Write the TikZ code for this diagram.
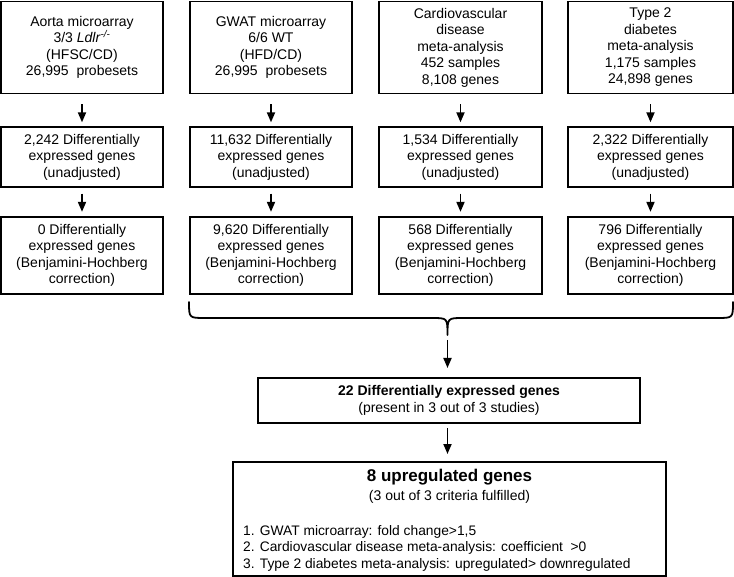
\documentclass[tikz,border=0pt]{standalone}
\usepackage{fontspec}
\setmainfont{Liberation Sans}
\usetikzlibrary{arrows.meta}
\begin{document}
\begin{tikzpicture}[x=1pt,y=-1pt,
  box/.style={draw, line width=1.3pt, align=center, inner sep=0pt,
    font=\fontsize{14}{16.5}\selectfont},
  topbox/.style={box, minimum height=92pt},
  midbox/.style={box, minimum height=60pt},
  botbox/.style={box, minimum height=77pt},
  bigbox/.style={draw, line width=2pt, inner sep=0pt, align=center,
    font=\fontsize{14}{16.5}\selectfont},
  txt/.style={inner sep=0pt, font=\fontsize{14}{16.5}\selectfont},
  arr/.style={line width=1.8pt, -{Triangle[length=10pt,width=8pt]}},
  bracestyle/.style={line width=1.8pt, line cap=round, line join=round}]
\useasboundingbox (0,0) rectangle (734,577);

% top row
\node[topbox, minimum width=162pt] (t1) at (82,47.5)
  {Aorta microarray\\3/3 \textit{Ldlr}\textsuperscript{\textit{-/-}}\\(HFSC/CD)\\26,995\ \ probesets};
\node[topbox, minimum width=162pt] (t2) at (271,47.5)
  {GWAT microarray\\6/6 WT\\(HFD/CD)\\26,995\ \ probesets};
\node[topbox, minimum width=163pt] (t3) at (460.5,47.5)
  {Cardiovascular\\disease\\meta-analysis\\452 samples\\8,108 genes};
\node[topbox, minimum width=165pt] (t4) at (650.5,47.5)
  {Type 2\\diabetes\\meta-analysis\\1,175 samples\\24,898 genes};

% middle row
\node[midbox, minimum width=162pt] (m1) at (82,157)
  {2,242 Differentially\\expressed genes\\(unadjusted)};
\node[midbox, minimum width=162pt] (m2) at (271,157)
  {11,632 Differentially\\expressed genes\\(unadjusted)};
\node[midbox, minimum width=163pt] (m3) at (460.5,157)
  {1,534 Differentially\\expressed genes\\(unadjusted)};
\node[midbox, minimum width=165pt] (m4) at (650.5,157)
  {2,322 Differentially\\expressed genes\\(unadjusted)};

% bottom row
\node[botbox, minimum width=162pt] (b1) at (82,255.5)
  {0 Differentially\\expressed genes\\(Benjamini-Hochberg\\correction)};
\node[botbox, minimum width=162pt] (b2) at (271,255.5)
  {9,620 Differentially\\expressed genes\\(Benjamini-Hochberg\\correction)};
\node[botbox, minimum width=163pt] (b3) at (460.5,255.5)
  {568 Differentially\\expressed genes\\(Benjamini-Hochberg\\correction)};
\node[botbox, minimum width=165pt] (b4) at (650.5,255.5)
  {796 Differentially\\expressed genes\\(Benjamini-Hochberg\\correction)};

% arrows between rows
\foreach \i in {1,2,3,4}{
  \draw[arr] ([yshift=-10pt]t\i.south) -- ([yshift=4pt]m\i.north);
  \draw[arr] ([yshift=-6pt]m\i.south) -- ([yshift=4.5pt]b\i.north);
}

% brace
\coordinate (braceL) at (189,302);
\coordinate (braceR) at (733,302);
\coordinate (tip) at (447.5,335);
\draw[bracestyle] (braceL) .. controls (189,318) .. (205,318) -- (432,318)
  .. controls (447.5,318) .. (tip) .. controls (447.5,318) .. (463,318)
  -- (717,318) .. controls (733,318) .. (braceR);

% summary boxes
\node[bigbox, minimum width=382pt, minimum height=45pt] (s1) at (449,400.5)
  {\textbf{22 Differentially expressed genes}\\(present in 3 out of 3 studies)};
\node[bigbox, minimum width=433pt, minimum height=114pt] (s2) at (449.5,519) {};
\node[txt, font=\bfseries\fontsize{17}{20}\selectfont] (s2title) at (449.5,477) {8 upregulated genes};
\node[txt] (s2sub) at (449.5,497) {(3 out of 3 criteria fulfilled)};
\node[txt, anchor=west, align=left, font=\fontsize{13.8}{16.5}\selectfont] (s2list) at (243,548)
  {1. GWAT microarray: fold change>1,5\\
   2. Cardiovascular disease meta-analysis: coefficient\ \ >0\\
   3. Type 2 diabetes meta-analysis: upregulated> downregulated};

\draw[arr] ([yshift=-5pt]tip) -- ([yshift=9pt]tip |- s1.north);
\draw[arr] ([yshift=-4pt]tip |- s1.south) -- ([yshift=7pt]tip |- s2.north);
\end{tikzpicture}
\end{document}
